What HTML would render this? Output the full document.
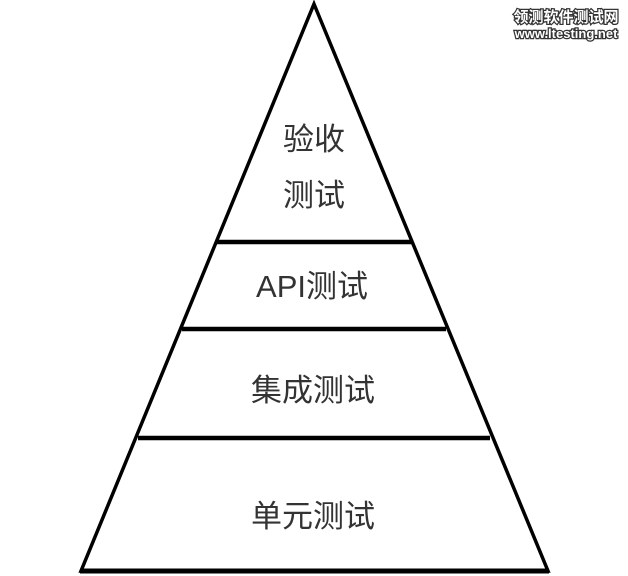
<!DOCTYPE html>
<html><head><meta charset="utf-8"><style>
html,body{margin:0;padding:0;background:#fff;width:628px;height:576px;overflow:hidden}
</style></head><body>
<svg width="628" height="576" viewBox="0 0 628 576" xmlns="http://www.w3.org/2000/svg">
<g stroke="#000" stroke-width="3.5" fill="none" stroke-linejoin="miter">
<polygon points="314,4 548,571 81,571"/>
<line x1="216" y1="242" x2="412" y2="242" stroke-width="4.5"/>
<line x1="182" y1="329" x2="446" y2="329" stroke-width="4.5"/>
<line x1="138" y1="438" x2="490" y2="438" stroke-width="4.5"/>
<line x1="80" y1="571" x2="549" y2="571" stroke-width="5"/>
</g>
<g font-family="'Liberation Sans','Noto Sans CJK SC',sans-serif" font-size="31" fill="#333" text-anchor="middle">
<text x="314" y="150">验收</text>
<text x="314" y="206">测试</text>
<text x="312" y="297">API测试</text>
<text x="313" y="401">集成测试</text>
<text x="313" y="527">单元测试</text>
</g>
<g font-family="'Liberation Sans','Noto Sans CJK SC',sans-serif" font-weight="bold" text-anchor="middle" fill="#fff" stroke="#333" stroke-width="2.5" paint-order="stroke">
<text x="566" y="22" font-size="15">领测软件测试网</text>
<text x="566" y="38" font-size="13">www.ltesting.net</text>
</g>
</svg>
</body></html>
